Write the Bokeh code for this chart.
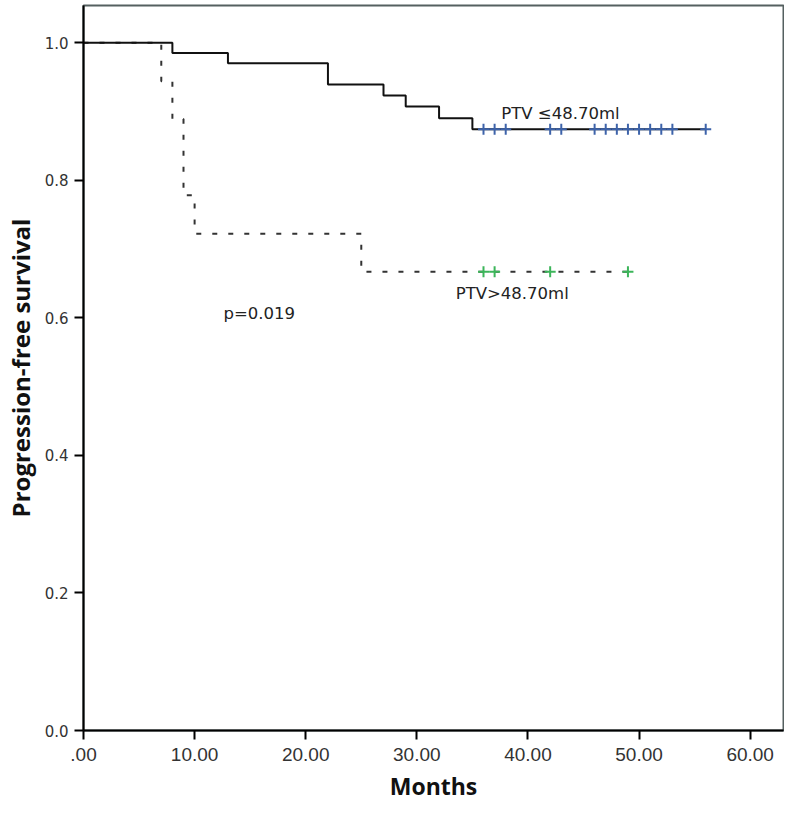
import numpy as np
from bokeh.plotting import figure
from bokeh.models import Range1d, FixedTicker, ColumnDataSource
from bokeh.core.properties import value
from bokeh.embed import file_html
from bokeh.resources import INLINE

# Kaplan-Meier data
low_times = [0, 8, 13, 22, 27, 29, 32, 35, 56]
low_surv = [1.0, 0.985, 0.970, 0.939, 0.923, 0.907, 0.890, 0.874, 0.874]
low_censor = [36, 37, 38, 42, 43, 46, 47, 48, 49, 50, 51, 52, 53, 56]

high_times = [0, 7, 8, 9, 10, 25, 49]
high_surv = [1.0, 0.944, 0.889, 0.778, 0.722, 0.667, 0.667]
high_censor = [36, 37, 42, 49]

x_ticks = [0, 10, 20, 30, 40, 50, 60]
x_tick_labels = [".00", "10.00", "20.00", "30.00", "40.00", "50.00", "60.00"]
y_ticks = [0.0, 0.2, 0.4, 0.6, 0.8, 1.0]
y_tick_labels = ["0.0", "0.2", "0.4", "0.6", "0.8", "1.0"]

label_text = ["PTV ≤48.70ml", "PTV>48.70ml", "p=0.019"]
label_x = [37.6, 33.5, 12.6]
label_y = [0.897, 0.635, 0.606]


def surv_at(times, surv, t):
    idx = np.searchsorted(np.array(times), np.array(t), side="right") - 1
    return list(np.array(surv)[idx])


p = figure(width=784, height=806, output_backend="svg", toolbar_location=None,
           x_range=Range1d(0, 63.0), y_range=Range1d(0, 1.054),
           min_border_left=75, min_border_right=1, min_border_top=5,
           min_border_bottom=76)
p.grid.visible = False
p.background_fill_color = "white"
p.border_fill_color = "white"
p.outline_line_color = "#556060"
p.outline_line_width = 2

# curves
p.step(high_times, high_surv, mode="after", line_color="#333333",
       line_width=2, line_dash="5 11")
p.step(low_times, low_surv, mode="after", line_color="#111111", line_width=2)

# censor marks
p.scatter(low_censor, surv_at(low_times, low_surv, low_censor), marker="cross",
          size=11, line_color="#3d63aa", line_width=2)
p.scatter(high_censor, surv_at(high_times, high_surv, high_censor), marker="cross",
          size=11, line_color="#3cb55a", line_width=2)

# annotations
src = ColumnDataSource(dict(x=label_x, y=label_y, t=label_text))
p.text(x="x", y="y", text="t", source=src, text_font=value("DejaVu Sans"),
       text_font_size="16.5px", text_color="#222222", text_baseline="alphabetic",
       text_align="left")

# axes
for ax in (p.xaxis[0], p.yaxis[0]):
    ax.axis_line_color = "black"
    ax.axis_line_width = 2
    ax.major_tick_line_color = "black"
    ax.major_tick_line_width = 2
    ax.major_tick_in = 0
    ax.major_tick_out = 9
    ax.minor_tick_line_color = None
    ax.major_label_text_color = "#333333"
    ax.axis_label_text_font = "Open Sans"
    ax.axis_label_text_font_style = "bold"
    ax.axis_label_text_color = "#111111"

p.xaxis.ticker = FixedTicker(ticks=x_ticks)
p.xaxis.major_label_overrides = {t: l for t, l in zip(x_ticks, x_tick_labels)}
p.xaxis.major_label_text_font = "Liberation Sans"
p.xaxis.major_label_text_font_size = "19px"
p.xaxis.major_label_standoff = 8
p.xaxis.axis_label = "Months"
p.xaxis.axis_label_text_font_size = "23px"
p.xaxis.axis_label_standoff = 6

p.yaxis.ticker = FixedTicker(ticks=y_ticks)
p.yaxis.major_label_overrides = {t: l for t, l in zip(y_ticks, y_tick_labels)}
p.yaxis.major_label_text_font = "DejaVu Sans"
p.yaxis.major_label_text_font_size = "15px"
p.yaxis.major_label_standoff = 6
p.yaxis.axis_label = "Progression-free survival"
p.yaxis.axis_label_text_font_size = "24px"
p.yaxis.axis_label_standoff = 5

open("out.html", "w").write(file_html(p, INLINE))
